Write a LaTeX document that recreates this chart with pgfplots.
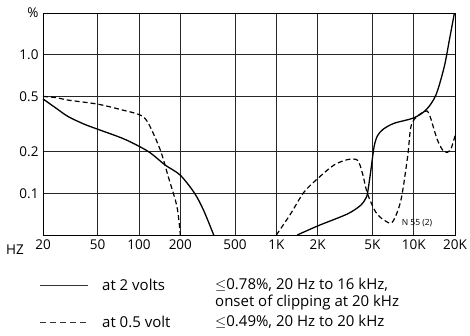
\documentclass[border=0pt]{standalone}
\usepackage{fontspec}
\setmainfont{Open Sans}
\usepackage{pgfplots}
\pgfplotsset{compat=1.18}
\begin{document}
\begin{tikzpicture}
\useasboundingbox (0pt,0pt) rectangle (470pt,335pt);
\begin{axis}[
  at={(43pt,100pt)}, anchor=south west,
  scale only axis, width=412pt, height=222pt,
  xmode=log, ymode=log,
  xmin=20, xmax=20000, ymin=0.05, ymax=2,
  xtick={20,50,100,200,500,1000,2000,5000,10000,20000},
  xticklabels={20,50,100,200,500,1K,2K,5K,10K,20K},
  ytick={0.1,0.2,0.5,1,2},
  yticklabels={0.1,0.2,0.5,1.0,\%},
  xminorticks=false, yminorticks=false,
  tick style={draw=none},
  grid=major,
  major grid style={black!85, line width=0.6pt},
  axis line style={black, line width=0.7pt},
  ticklabel style={font=\fontsize{13.5}{15}\selectfont},
  xticklabel style={yshift=-1pt},
  yticklabel style={xshift=-1pt},
  clip=false,
]
\addplot[black, line width=1.3pt, smooth, tension=0.5] coordinates {
(20,0.48) (25,0.41) (30.6,0.357) (40,0.315) (50,0.29) (79,0.245) (117,0.2) (155,0.16) (200,0.135) (254,0.1) (296,0.075) (350,0.05)
};
\addplot[black, line width=1.3pt, smooth, tension=0.5] coordinates {
(1420,0.05) (2040,0.0586) (3300,0.071) (4120,0.082) (4450,0.091) (4610,0.1) (4880,0.147) (5150,0.217) (5450,0.26) (6000,0.29) (7200,0.32) (10000,0.35) (12300,0.40) (14500,0.51) (16700,0.82) (18200,1.28) (19800,2.0)
};
\addplot[black, line width=1.2pt, dash pattern=on 5pt off 3pt, smooth, tension=0.5] coordinates {
(20,0.5) (25,0.49) (30.6,0.47) (50,0.44) (75,0.40) (102,0.367) (117,0.32) (143,0.205) (164,0.13) (189,0.08) (200,0.05)
};
\addplot[black, line width=1.2pt, dash pattern=on 5pt off 3pt, smooth, tension=0.5] coordinates {
(1000,0.05) (1270,0.071) (1590,0.102) (2040,0.13) (2630,0.16) (3300,0.175) (3900,0.173) (4240,0.139) (4600,0.1) (5300,0.073) (6100,0.064) (7000,0.062) (8070,0.089) (9030,0.183) (9700,0.32) (12000,0.39) (13000,0.37) (14900,0.242) (16700,0.199) (18500,0.205) (20000,0.26)
};
\end{axis}
\node[anchor=west, font=\fontsize{13.5}{15}\selectfont, inner sep=0pt] at (6pt,85pt) {HZ};
\node[font=\fontsize{8.5}{10}\selectfont, inner sep=0pt] at (417pt,112pt) {N 55 (2)};
\draw[black!80, line width=0.8pt] (40pt,50pt) -- (88pt,50pt);
\draw[black!80, line width=0.8pt, dash pattern=on 6pt off 4pt] (40pt,13pt) -- (88pt,13pt);
\begin{scope}[every node/.style={anchor=west, inner sep=0pt, font=\fontsize{15}{17}\selectfont}]
\node at (102pt,50pt) {at 2 volts};
\node at (102pt,13pt) {at 0.5 volt};
\node at (215pt,50pt) {$\leq$0.78\%, 20 Hz to 16 kHz,};
\node at (215pt,32pt) {onset of clipping at 20 kHz};
\node at (215pt,13pt) {$\leq$0.49\%, 20 Hz to 20 kHz};
\end{scope}
\end{tikzpicture}
\end{document}
